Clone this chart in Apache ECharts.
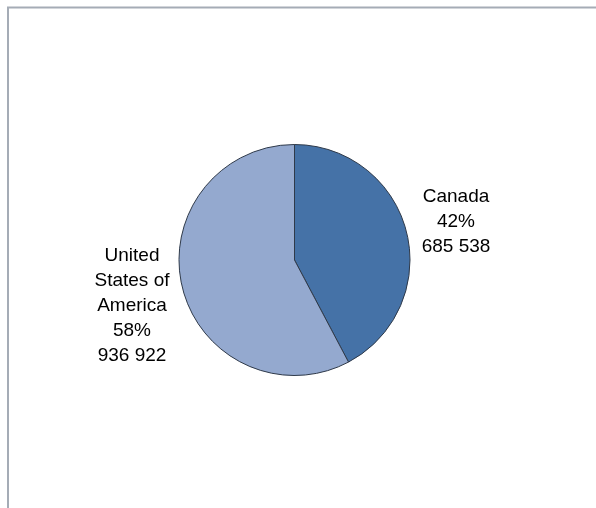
<!DOCTYPE html>
<html>
<head>
<meta charset="utf-8">
<script src="https://cdn.jsdelivr.net/npm/echarts@6/dist/echarts.min.js"></script>
<style>html,body{margin:0;padding:0;background:#fff}#c{width:596px;height:508px}</style>
</head>
<body>
<div id="c"></div>
<script>
const categories = ['Canada', 'United States of America'];
const values = [685538, 936922];
const colors = ['#4572a7', '#94a9cf'];

// label anchor positions (block centres), layout only
const labelPos = [[456, 222], [132, 306]];

function wrap(name) {
  const words = name.split(' ');
  const lines = [];
  let cur = '';
  words.forEach(w => {
    if (!cur) cur = w;
    else if ((cur + ' ' + w).length <= 9) cur += ' ' + w;
    else { lines.push(cur); cur = w; }
  });
  if (cur) lines.push(cur);
  return lines.join('\n');
}
function fmtNum(v) {
  return String(v).replace(/\B(?=(\d{3})+(?!\d))/g, ' ');
}

const chart = echarts.init(document.getElementById('c'), null, {renderer: 'canvas'});
chart.setOption({
  animation: false,
  backgroundColor: '#ffffff',
  graphic: [{
    type: 'rect',
    shape: {x: 8, y: 7.5, width: 620, height: 540},
    style: {fill: 'none', stroke: '#a5acb6', lineWidth: 2},
    silent: true
  }],
  series: [{
    type: 'pie',
    center: [294.5, 260],
    radius: [0, 115.5],
    startAngle: 90,
    clockwise: true,
    data: categories.map((c, i) => ({name: c, value: values[i], itemStyle: {color: colors[i]}})),
    itemStyle: {borderColor: '#2f3a4a', borderWidth: 1},
    label: {
      show: true,
      position: 'outside',
      color: '#000',
      fontFamily: 'Liberation Sans',
      fontSize: 19,
      lineHeight: 25,
      align: 'center',
      formatter: p => wrap(p.name) + '\n' + Math.round(p.percent) + '%\n' + fmtNum(p.value)
    },
    labelLine: {show: false},
    labelLayout: p => ({
      x: labelPos[p.dataIndex][0],
      y: labelPos[p.dataIndex][1],
      align: 'center',
      verticalAlign: 'middle',
      hideOverlap: false
    }),
    emphasis: {disabled: true}
  }]
});
</script>
</body>
</html>
